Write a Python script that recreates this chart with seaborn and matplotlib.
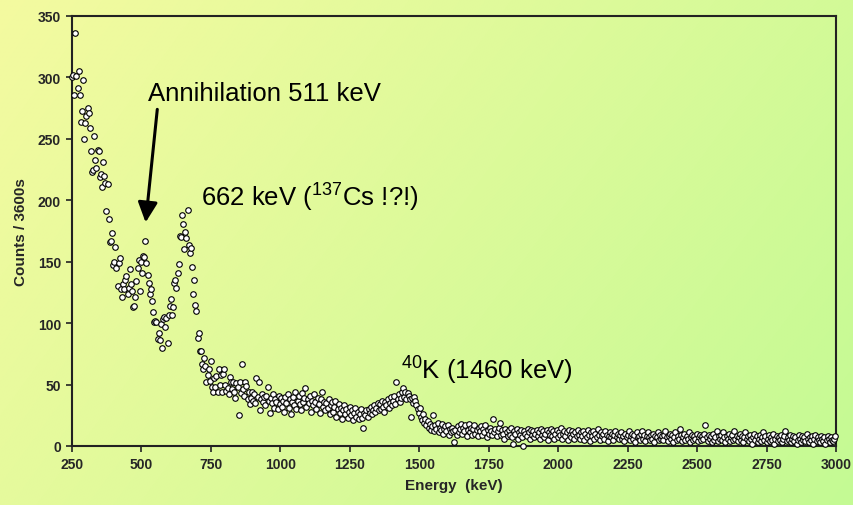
import numpy as np
import pandas as pd
import matplotlib
matplotlib.use("Agg")
import matplotlib.pyplot as plt
import seaborn as sns

# ---------------- data (counts per 4 keV channel) ----------------
counts_250_398 = [300, 302, 286, 336, 301, 291, 305, 286, 264, 273, 298, 250, 263, 269, 275, 271, 259, 240, 223, 225,
                  252, 233, 226, 241, 240, 219, 221, 211, 231, 220, 214, 191, 213, 185, 166, 167, 173, 147]
counts_402_550 = [150, 162, 145, 130, 149, 153, 128, 121, 132, 128, 135, 138, 124, 129, 144, 132, 126, 113, 114, 121,
                  134, 145, 151, 126, 150, 141, 155, 154, 167, 149, 139, 133, 124, 128, 118, 109, 101, 102]
counts_554_702 = [101, 87, 92, 86, 99, 80, 103, 105, 97, 104, 84, 107, 114, 120, 107, 113, 133, 135, 129, 141,
                  148, 171, 170, 188, 181, 160, 174, 169, 192, 164, 157, 161, 146, 124, 135, 115, 110, 88]
counts_706_854 = [92, 77, 77, 67, 63, 72, 65, 52, 58, 63, 53, 69, 48, 44, 55, 48, 57, 44, 63, 50,
                  58, 44, 59, 63, 50, 45, 47, 42, 56, 52, 46, 52, 44, 39, 51, 48, 25, 52]
counts_858_1006 = [43, 67, 46, 41, 52, 49, 38, 44, 34, 39, 44, 37, 42, 35, 55, 40, 52, 29, 38, 42,
                   36, 40, 33, 41, 48, 37, 27, 39, 35, 42, 31, 38, 36, 30, 41, 34, 39, 32]
counts_1010_1158 = [37, 28, 40, 35, 42, 31, 38, 26, 36, 40, 33, 44, 30, 37, 41, 34, 29, 43, 36, 39,
                    47, 32, 38, 35, 41, 28, 37, 33, 42, 36, 30, 39, 34, 27, 38, 44, 32, 36]
counts_1162_1310 = [29, 35, 31, 38, 26, 33, 36, 28, 32, 37, 24, 30, 34, 27, 31, 22, 29, 33, 26, 30,
                    23, 28, 32, 25, 29, 21, 27, 31, 24, 28, 22, 26, 30, 23, 15, 27, 25, 29]
counts_1314_1462 = [24, 30, 27, 32, 26, 29, 33, 28, 31, 35, 29, 34, 30, 37, 32, 28, 36, 33, 38, 31,
                    35, 40, 33, 37, 41, 34, 52, 38, 42, 36, 39, 44, 47, 40, 44, 38, 43, 41]
counts_1466_1614 = [38, 24, 39, 35, 40, 37, 33, 30, 27, 31, 24, 21, 26, 19, 22, 17, 20, 15, 18, 13,
                    16, 25, 12, 17, 14, 19, 11, 15, 13, 18, 10, 14, 16, 12, 17, 9, 14, 11]
counts_1618_1766 = [15, 12, 3, 13, 9, 16, 11, 14, 18, 10, 15, 12, 17, 8, 13, 18, 11, 15, 9, 14,
                    17, 10, 13, 8, 15, 12, 16, 9, 14, 11, 17, 7, 13, 10, 15, 12, 9, 22]
counts_1770_1918 = [11, 14, 8, 12, 15, 19, 9, 13, 10, 6, 14, 11, 8, 13, 9, 15, 7, 2, 12, 10,
                    14, 6, 11, 9, 13, 7, 0, 12, 10, 8, 14, 11, 6, 13, 9, 12, 7, 10]
counts_1922_2070 = [13, 8, 11, 6, 14, 9, 12, 7, 10, 13, 5, 11, 9, 14, 8, 12, 6, 10, 13, 7,
                    11, 9, 15, 6, 10, 12, 8, 11, 5, 13, 9, 7, 12, 10, 6, 11, 8, 13]
counts_2074_2222 = [9, 6, 11, 8, 12, 5, 10, 7, 13, 9, 4, 11, 8, 12, 6, 10, 7, 14, 9, 5,
                    11, 8, 10, 6, 12, 9, 4, 8, 11, 7, 10, 5, 9, 12, 7, 10, 6, 9]
counts_2226_2374 = [11, 6, 8, 4, 10, 7, 9, 12, 5, 8, 10, 6, 9, 3, 11, 7, 8, 5, 10, 12,
                    6, 9, 4, 8, 11, 7, 5, 9, 6, 10, 3, 8, 7, 11, 5, 9, 6, 8]
counts_2378_2526 = [5, 9, 12, 7, 4, 8, 10, 6, 9, 3, 7, 11, 5, 8, 6, 14, 9, 4, 7, 10,
                    5, 8, 6, 11, 3, 7, 9, 5, 8, 6, 10, 4, 7, 9, 5, 8, 6, 10]
counts_2530_2678 = [17, 7, 4, 9, 6, 8, 3, 10, 5, 7, 12, 4, 8, 6, 9, 5, 11, 7, 3, 8,
                    6, 10, 4, 7, 9, 5, 12, 6, 8, 4, 7, 10, 5, 8, 3, 7, 11, 6]
counts_2682_2830 = [8, 4, 9, 6, 2, 7, 10, 5, 8, 3, 6, 9, 4, 7, 11, 5, 8, 3, 6, 9,
                    4, 7, 5, 10, 2, 6, 8, 4, 7, 5, 9, 3, 6, 8, 12, 4, 7, 5]
counts_2834_2998 = [9, 3, 6, 8, 4, 7, 2, 5, 9, 6, 3, 8, 5, 7, 4, 10, 6, 3, 7, 5,
                    8, 2, 6, 9, 4, 7, 5, 3, 8, 6, 4, 7, 2, 5, 8, 6, 3, 7, 5, 4, 6, 8]

first_channel_kev = 250
channel_width_kev = 4

x_ticks = [250, 500, 750, 1000, 1250, 1500, 1750, 2000, 2250, 2500, 2750, 3000]
y_ticks = [0, 50, 100, 150, 200, 250, 300, 350]

counts = (counts_250_398 + counts_402_550 + counts_554_702 + counts_706_854 + counts_858_1006 +
          counts_1010_1158 + counts_1162_1310 + counts_1314_1462 + counts_1466_1614 +
          counts_1618_1766 + counts_1770_1918 + counts_1922_2070 + counts_2074_2222 +
          counts_2226_2374 + counts_2378_2526 + counts_2530_2678 + counts_2682_2830 + counts_2834_2998)
energy = first_channel_kev + channel_width_kev * np.arange(len(counts))
df = pd.DataFrame({"Energy": energy, "Counts": counts})

# ---------------- style ----------------
sns.set_style("ticks")
plt.rcParams["font.family"] = ["Liberation Sans", "DejaVu Sans"]
plt.rcParams["mathtext.fontset"] = "custom"
plt.rcParams["mathtext.rm"] = "Liberation Sans"
plt.rcParams["mathtext.it"] = "Liberation Sans:italic"
plt.rcParams["mathtext.bf"] = "Liberation Sans:bold"

W, H = 854, 506
fig = plt.figure(figsize=(W / 100, H / 100), dpi=100)

# gradient background (yellow top-left -> green bottom-right)
bg = fig.add_axes([0, 0, 1, 1], zorder=0)
yy, xx = np.mgrid[0:H, 0:W]
t = (xx / W * 0.8 + yy / H * 0.35)
t = (t - t.min()) / (t.max() - t.min())
c0 = np.array([244, 250, 160]) / 255.0
c1 = np.array([196, 250, 148]) / 255.0
img = c0[None, None, :] * (1 - t[..., None]) + c1[None, None, :] * t[..., None]
bg.imshow(img, aspect="auto", extent=[0, 1, 0, 1], origin="upper")
bg.set_axis_off()

L, R, T, B = 72, 836, 17, 447
ax = fig.add_axes([L / W, (H - B) / H, (R - L) / W, (B - T) / H], zorder=1)
ax.set_facecolor("none")

sns.scatterplot(data=df, x="Energy", y="Counts", ax=ax, color="white",
                edgecolor="black", s=16, linewidth=0.8, clip_on=False, zorder=3, legend=False)

ax.set_xlim(250, 3000)
ax.set_ylim(0, 350)
ax.set_xticks(x_ticks)
ax.set_yticks(y_ticks)
ax.tick_params(axis="both", direction="out", length=4, width=1.2, color="#222222",
               labelsize=10, pad=4)
for lab in ax.get_xticklabels() + ax.get_yticklabels():
    lab.set_fontweight("bold")
for side in ["left", "bottom", "right", "top"]:
    ax.spines[side].set_visible(True)
    ax.spines[side].set_color("#222222")
    ax.spines[side].set_linewidth(1.5)

ax.set_xlabel("Energy  (keV)", fontsize=11, fontweight="bold", labelpad=5)
ax.set_ylabel("Counts / 3600s", fontsize=11, fontweight="bold", labelpad=7)

# annotations
ax.text(525, 282, "Annihilation 511 keV", fontsize=18.5, ha="left", va="baseline", color="black")
ax.annotate("", xy=(515, 182), xytext=(557, 274),
            arrowprops=dict(arrowstyle="-|>,head_length=0.45,head_width=0.22", lw=2.2,
                            color="black", mutation_scale=27, shrinkA=0, shrinkB=0))
ax.text(713, 195.5, r"662 keV ($\mathregular{^{137}}$Cs !?!)", fontsize=18.5, ha="left",
        va="baseline", color="black")
ax.text(1433, 54.5, r"$\mathregular{^{40}}$K (1460 keV)", fontsize=18.5, ha="left",
        va="baseline", color="black")

fig.savefig("out.png", dpi=100)
